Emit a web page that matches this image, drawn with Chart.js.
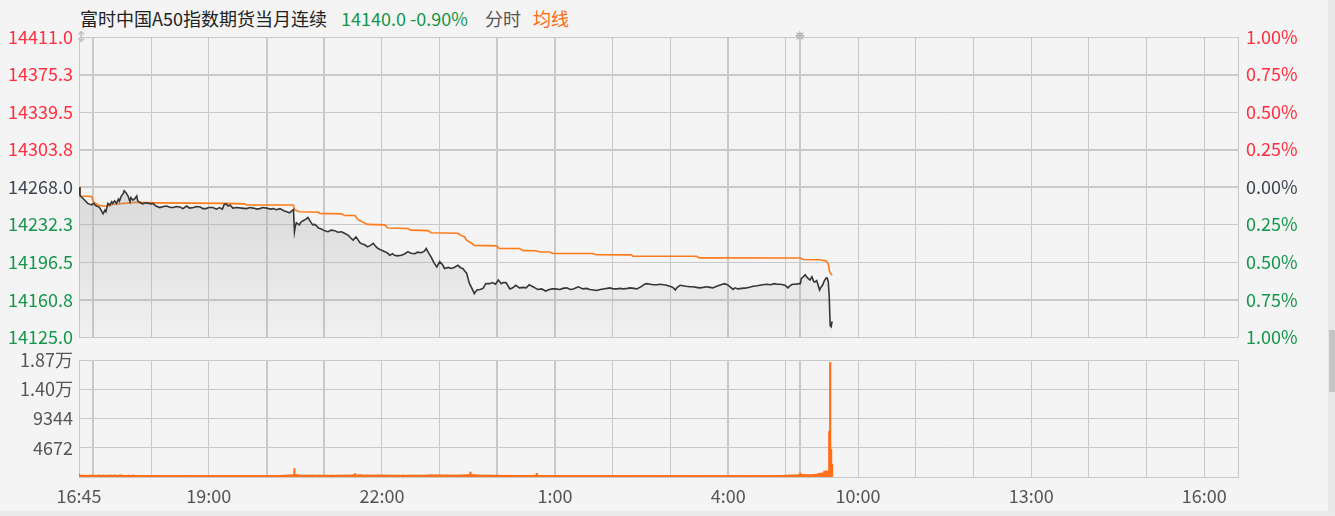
<!DOCTYPE html>
<html><head><meta charset="utf-8">
<script src="https://cdn.jsdelivr.net/npm/chart.js@4.4.1/dist/chart.umd.min.js"></script>
<style>
html,body{margin:0;padding:0;background:#f4f4f4;width:1335px;height:516px;overflow:hidden;font-family:"Noto Sans CJK SC","Noto Sans",sans-serif;}
canvas{position:absolute;left:0;}
.t{position:absolute;top:5px;font-size:18px;line-height:26px;white-space:nowrap;}
#ico1{position:absolute;left:75px;top:28px;font:bold 15px "DejaVu Sans";color:#c4c4c4;}
#ico2{position:absolute;left:794px;top:28px;font:bold 14px "DejaVu Sans";color:#bcbcbc;}
#sb{position:absolute;left:1328px;top:0;width:7px;height:516px;background:#e8e8e8;}
#sbt{position:absolute;left:1329px;top:330px;width:6px;height:62px;background:#c4c4c4;}
#bot{position:absolute;left:0;top:511px;width:1335px;height:5px;background:#e9e9e9;}
</style></head><body>
<div class="t" style="left:80px;color:#222;">富时中国A50指数期货当月连续</div>
<div class="t" style="left:341px;color:#15954a;">14140.0 -0.90%</div>
<div class="t" style="left:485px;color:#555;">分时</div>
<div class="t" style="left:533px;color:#ff6a10;">均线</div>
<canvas id="pc" width="1335" height="356" style="top:0"></canvas>
<canvas id="vc" width="1335" height="176" style="top:340px"></canvas>
<div id="ico1">↕</div>
<div id="ico2">✸</div>
<div id="sb"></div><div id="sbt"></div><div id="bot"></div>
<script>
// ---------------- data ----------------
const preClose = 14268.0;
const lastPrice = 14140.0;
const priceTicks = [14125.0, 14160.75, 14196.5, 14232.25, 14268.0, 14303.75, 14339.5, 14375.25, 14411.0];
const priceTickLabels = ['14125.0','14160.8','14196.5','14232.3','14268.0','14303.8','14339.5','14375.3','14411.0'];
const pctTickLabels = ['1.00%','0.75%','0.50%','0.25%','0.00%','0.25%','0.50%','0.75%','1.00%'];
const volTicks = [0, 4672, 9344, 14016, 18688];
const volTickLabels = ['', '4672', '9344', '1.40万', '1.87万'];
const axisStart = '16:45';
const axisEnd = '16:35';
const gridTimes = ['17:00','18:00','19:00','20:00','21:00','22:00','23:00','0:00','1:00','2:00','3:00','4:00','5:00','9:00','10:00','11:00','12:00','13:00','14:00','15:00','16:00'];
const thickGridTimes = ['17:00','20:00','21:00','0:00','1:00','4:00','9:00'];
const axisLabelTimes = ['16:45','19:00','22:00','1:00','4:00','10:00','13:00','16:00'];

const priceTimes = ['16:45','16:46','16:47','16:51','16:54','16:58','17:00','17:03','17:06','17:08','17:10','17:12','17:13','17:15','17:17','17:19','17:20','17:22','17:24','17:26','17:27','17:29','17:31','17:32','17:34','17:36','17:38','17:39','17:41','17:43','17:45','17:46','17:48','17:51','17:55',
'18:00','18:02','18:05','18:09','18:13','18:16','18:20','18:23','18:26','18:30','18:33','18:37','18:40','18:44','18:47','18:51','18:54','18:57',
'19:00','19:04','19:08','19:11','19:14','19:16','19:18','19:20','19:22','19:25','19:29','19:34','19:39','19:43','19:46','19:50','19:53','19:56',
'20:00','20:04','20:07','20:10','20:14','20:18','20:21','20:24','20:26','20:28','20:29','20:30','20:31','20:34','20:36','20:38','20:41','20:43','20:45','20:48','20:50','20:52','20:54','20:57','20:59',
'21:02','21:04','21:07','21:11','21:14','21:18','21:21','21:25','21:27','21:30','21:33','21:35','21:37','21:39','21:42','21:45','21:48','21:51','21:54','21:56','21:59',
'22:03','22:06','22:08','22:11','22:13','22:16','22:20','22:23','22:27','22:30','22:34','22:37','22:41','22:44','22:46','22:48','22:51','22:54','22:57',
'23:00','23:03','23:05','23:09','23:12','23:15','23:19','23:22','23:24','23:26','23:28','23:30','23:31','23:34','23:36','23:37','23:39','23:42','23:45','23:48','23:52','23:55','23:58',
'0:01','0:04','0:06','0:09','0:11','0:13','0:16','0:19','0:23','0:27','0:30','0:33','0:37','0:40','0:42','0:46','0:50','0:54','0:57',
'1:00','1:05','1:08','1:12','1:16','1:19','1:24','1:29','1:33','1:36','1:40','1:43','1:47','1:50','1:54','1:57',
'2:01','2:04','2:08','2:11','2:15','2:18','2:22','2:25','2:28','2:30','2:33','2:35','2:39','2:42','2:46','2:49','2:53','2:56','2:59',
'3:01','3:03','3:05','3:07','3:10','3:13','3:16','3:20','3:23','3:27','3:30','3:34','3:37','3:41','3:44','3:48','3:51','3:54','3:56','3:59',
'4:02','4:05','4:07','4:10','4:14','4:19','4:22','4:26','4:30','4:33','4:36','4:40','4:44','4:48','4:51','4:54','4:57','4:59',
'5:02','5:05','5:07','5:10','5:14',
'9:00','9:01','9:03','9:05','9:07','9:08','9:10','9:12','9:14','9:15','9:17','9:18','9:20','9:21','9:23','9:25','9:27','9:28','9:29','9:30','9:31','9:32','9:33'];
const priceValues = [14268,14260,14259,14255.5,14252.5,14251,14252.5,14250,14249,14246,14242.5,14246,14244.5,14252.5,14251,14254,14252.5,14255,14252.5,14256.5,14254.5,14259.5,14262,14264.5,14262.5,14259.5,14254,14258,14255.5,14257,14259.5,14255,14253.5,14252,14253,
14252,14252.5,14250,14248.5,14249.5,14250,14248.5,14248.5,14249.5,14249,14247.5,14250,14248,14248.5,14249.5,14249,14247.5,14247.5,
14248.5,14248.5,14247,14248.5,14247,14251.5,14252,14250,14251,14248,14248.5,14248,14247.5,14248.5,14248,14247,14247.5,14248.5,
14248,14247,14247.5,14246.5,14247.5,14245.5,14244.5,14243.5,14245,14246.5,14225.5,14231,14234,14232,14235,14236,14237.5,14239,14236,14232,14232.5,14231,14229,14228,14227,
14226,14225.5,14227,14226.5,14225,14225.5,14224,14222,14220,14217.5,14220.5,14218,14215,14214,14213,14211,14212.5,14214.5,14211,14209.5,14208,
14206.5,14205,14203,14204.5,14203,14202.5,14203,14204,14206.5,14205,14204.5,14206,14205.5,14207,14209.5,14206,14201.5,14196,14192,
14197,14194,14190.5,14191.5,14190.5,14191.5,14193.5,14191,14190.5,14188,14186,14179,14176,14170.5,14166.5,14168,14170,14170.5,14171.5,14176,14176,14177,14175.5,
14179.5,14176,14177,14177,14174,14171,14172,14174.5,14172,14172.5,14172,14175,14173,14171.5,14170.5,14171,14169,14170.5,14171,
14171,14170.5,14171.5,14172,14170.5,14171,14173,14171,14171.5,14170.5,14170,14169.5,14170.5,14171,14171.5,14172,
14171,14171,14171.5,14171,14171.5,14172,14171.5,14171,14172.5,14173.5,14175.5,14176,14175.5,14175,14175,14175.5,14175,14174.5,14173.5,
14173,14172,14170,14172.5,14174.5,14174,14173.5,14173,14173,14172.5,14172,14172.5,14173,14172.5,14172,14173.5,14174.5,14175.5,14176,14175,
14173,14170.5,14172,14171,14171.5,14172,14172.5,14173.5,14174,14174.5,14175,14175.5,14175,14176,14175.5,14175.5,14175,14174.5,
14172,14174.5,14175.5,14175.5,14176,
14176,14181,14182.5,14184.5,14182,14181,14179.5,14182.5,14178,14177.5,14179,14176,14170,14172,14174.5,14179,14181.5,14181,14178,14164,14136,14135,14140];

const avgTimes = ['16:45','16:46','16:58','17:00','17:05','17:10','17:17','17:20','17:31','17:46','18:05','19:18','19:37','19:39','20:28','20:29','20:34','20:54','20:55','21:18','21:21','21:32','21:35','21:45','22:03','22:06','22:27','22:30','22:48','22:51','23:19','23:22','23:26','23:28','23:34','23:36','23:59','0:02','0:23','0:27','0:40','0:44','0:54','0:58','1:39','1:43','2:19','2:21','3:27','3:30','5:14','9:00','9:03','9:20','9:27','9:29','9:30','9:31','9:33'];
const avgValues = [14268,14259.5,14259,14254,14251,14250,14250,14251.5,14252.5,14253.5,14253,14252.5,14252,14251,14251,14246.5,14244.5,14244,14243,14242.5,14241,14241,14237,14232.5,14232,14229,14228.5,14227,14226.5,14224.5,14224,14222,14220.5,14217.5,14214,14212.5,14212,14209.5,14209.5,14207.5,14207.3,14206.3,14206.2,14204.8,14204.7,14203.5,14203.4,14202.2,14202.1,14200.6,14200.5,14200.4,14199,14198.8,14197.7,14195,14189,14186.5,14184];

// per-minute volume, index 0 = 16:45 (night session 16:45-5:14, then 9:00-9:33)
const volumes = [
480,300,260,310,280,250,300,270,290,260,240,300,280,260,310,300,280,260,240,270,300,320,280,260,290,310,270,250,300,280,
300,270,290,310,280,260,300,320,290,270,260,280,300,310,330,290,270,280,260,250,270,290,300,260,280,270,300,290,260,240,
250,270,260,240,280,260,250,230,270,260,240,250,230,260,250,240,260,230,250,240,260,250,230,240,260,250,270,240,230,250,
240,230,250,260,240,230,250,240,260,250,230,240,250,260,240,230,250,240,230,250,260,240,230,250,240,260,250,240,230,250,
240,250,230,240,260,250,240,230,250,240,260,250,240,230,250,260,240,250,230,240,250,240,260,250,230,240,250,260,240,230,
250,240,230,250,260,240,230,250,240,260,250,230,240,250,230,240,260,250,240,230,250,240,230,250,260,240,250,230,240,250,
240,230,250,260,240,250,230,240,250,260,240,230,250,240,260,250,240,230,250,240,230,250,260,240,250,230,240,250,260,270,
260,280,270,290,300,280,310,290,300,320,340,310,300,360,1340,420,380,340,320,300,310,290,300,280,290,300,310,290,280,300,
290,280,300,310,290,280,300,290,280,300,310,290,280,270,290,300,280,290,300,280,270,290,280,300,290,280,270,290,300,280,
290,280,300,290,280,300,310,290,300,320,300,310,290,300,320,330,310,540,320,300,310,300,390,300,290,310,300,290,300,310,
300,290,310,300,290,280,300,310,290,300,310,320,300,290,310,300,320,310,300,290,300,310,290,300,280,290,300,290,280,290,
280,290,300,280,270,290,280,300,290,280,270,290,280,300,290,280,290,300,280,290,310,290,280,300,290,280,300,290,280,300,
310,300,290,310,320,330,340,320,310,330,320,310,300,320,310,330,320,310,300,290,310,300,320,310,300,290,300,310,300,290,
300,290,310,300,290,300,310,320,300,310,320,330,340,350,390,340,360,800,380,360,350,340,330,320,310,320,300,310,300,290,
300,290,310,300,290,280,300,290,280,300,290,280,270,290,280,300,290,280,270,260,280,270,290,280,270,260,280,270,260,280,
270,260,280,270,260,250,270,260,280,270,260,250,270,260,250,270,260,280,270,260,250,270,260,280,290,300,590,280,270,260,
260,250,270,260,250,240,260,250,240,260,250,240,230,250,240,260,250,240,230,250,240,230,250,240,260,250,240,230,250,240,
230,240,250,230,240,260,250,240,230,250,240,230,250,240,230,240,250,230,240,250,240,230,220,240,250,230,240,230,220,240,
230,240,220,230,250,240,230,220,240,230,250,240,230,220,240,230,220,240,230,250,240,230,220,230,240,230,220,240,230,220,
230,240,220,230,240,230,220,240,230,250,240,260,250,270,260,250,240,230,250,240,230,240,250,230,240,230,220,240,230,250,
240,230,220,240,230,250,240,230,220,240,230,250,260,240,230,220,240,250,260,240,230,250,240,230,220,240,230,250,240,230,
220,240,230,250,240,230,220,240,230,220,240,230,250,240,230,220,240,230,220,240,230,250,240,230,220,240,230,220,240,230,
250,240,230,220,240,230,250,260,240,230,250,240,230,250,240,230,250,260,270,250,240,230,250,240,230,220,240,230,250,240,
230,240,220,230,250,240,230,220,240,230,250,240,230,220,240,230,250,240,230,220,240,250,230,240,230,220,240,230,250,240,
230,240,250,260,240,230,250,260,270,250,260,280,270,260,280,300,290,280,300,310,290,300,320,310,300,330,320,310,340,380,
620,420,380,360,400,380,360,340,380,360,350,370,360,380,400,420,440,460,480,520,600,620,580,600,700,950,900,980,920,900,
7300,18300,4400,2000];

// ---------------- helpers ----------------
function toPos(t){
  const [h,m] = t.split(':').map(Number); const tm = h*60+m;
  const [sh,sm] = axisStart.split(':').map(Number); const s = sh*60+sm;
  if (tm >= s) return tm - s;
  if (tm <= 5*60+15) return tm + 1440 - s;
  return tm - 540 + (5*60+15 + 1440 - s);
}
const X_MAX = toPos(axisEnd);
const gridPos = gridTimes.map(toPos);
const thickPos = thickGridTimes.map(toPos);
const labelPos = axisLabelTimes.map(toPos);
const xTickPos = [0].concat(gridPos);
const GRID = '#c9c9c9';
const FONT = {family:'"Noto Sans CJK SC","Noto Sans",sans-serif', size:18};
const RED='#ff2d3d', GREEN='#15954a', NEU='#3e4452';
function tickColor(v){ return Math.abs(v-preClose)<0.01 ? NEU : (v>preClose ? RED : GREEN); }
const thickPriceLines = [14160.75, 14268.0, 14303.75, 14375.25];

// ---------------- price chart ----------------
new Chart(document.getElementById('pc'), {
  type:'line',
  data:{datasets:[
    {data: priceTimes.map((t,i)=>({x:toPos(t), y:priceValues[i]})), borderColor:'#363636', borderWidth:1.6, pointRadius:0, tension:0, fill:'start', yAxisID:'y',
     backgroundColor:(c)=>{const ch=c.chart,a=ch.chartArea; if(!a) return 'rgba(0,0,0,0)';
       const g=ch.ctx.createLinearGradient(0,ch.scales.y.getPixelForValue(preClose),0,a.bottom);
       g.addColorStop(0,'rgba(160,160,160,0.32)'); g.addColorStop(1,'rgba(160,160,160,0.04)'); return g;}},
    {data: avgTimes.map((t,i)=>({x:toPos(t), y:avgValues[i]})), borderColor:'#ff7a1a', borderWidth:1.6, pointRadius:0, tension:0, fill:false, yAxisID:'y'}
  ]},
  options:{responsive:false, animation:false, events:[],
    layout:{padding:{top:37,bottom:0,left:0,right:0}},
    plugins:{legend:{display:false}, tooltip:{enabled:false}},
    scales:{
      x:{type:'linear', min:0, max:X_MAX, offset:false,
         afterBuildTicks:s=>{s.ticks = xTickPos.map(v=>({value:v}));},
         ticks:{display:false}, grid:{color:GRID, drawTicks:false, offset:false, lineWidth:c=>thickPos.includes(c.tick.value)?2:1},
         border:{display:false}, afterFit:s=>{s.height=0;}},
      y:{position:'left', min:priceTicks[0], max:priceTicks[priceTicks.length-1],
         afterBuildTicks:s=>{s.ticks = priceTicks.map(v=>({value:v}));},
         ticks:{autoSkip:false, padding:6, font:FONT, color:c=>tickColor(c.tick.value), callback:(v,i)=>priceTickLabels[i]},
         grid:{color:GRID, drawTicks:false, lineWidth:c=>thickPriceLines.includes(c.tick.value)?2:1},
         border:{color:GRID, width:1}, afterFit:s=>{s.width=79;}},
      y1:{position:'right', min:priceTicks[0], max:priceTicks[priceTicks.length-1],
         afterBuildTicks:s=>{s.ticks = priceTicks.map(v=>({value:v}));},
         ticks:{autoSkip:false, padding:8, font:FONT, color:c=>tickColor(c.tick.value), callback:(v,i)=>pctTickLabels[i]},
         grid:{drawOnChartArea:false, drawTicks:false}, border:{color:GRID, width:1}, afterFit:s=>{s.width=97;}}
    }}
});

// ---------------- volume chart ----------------
new Chart(document.getElementById('vc'), {
  type:'bar',
  data:{datasets:[{data: volumes.map((v,i)=>({x:i, y:v})), backgroundColor:'#ff6e1a', borderWidth:0, barThickness:1.5}]},
  options:{responsive:false, animation:false, events:[],
    layout:{padding:{top:20,bottom:0,left:0,right:0}},
    plugins:{legend:{display:false}, tooltip:{enabled:false}},
    scales:{
      x:{type:'linear', min:0, max:X_MAX, offset:false,
         afterBuildTicks:s=>{s.ticks = xTickPos.map(v=>({value:v}));},
         ticks:{autoSkip:false, maxRotation:0, padding:8, font:FONT, color:'#555',
                callback:(v)=>{const k=labelPos.indexOf(v); return k>=0?axisLabelTimes[k]:'';}},
         grid:{color:GRID, drawTicks:false, offset:false, lineWidth:c=>thickPos.includes(c.tick.value)?2:1},
         border:{color:GRID, width:1}, afterFit:s=>{s.height=39;}},
      y:{position:'left', min:0, max:volTicks[volTicks.length-1],
         afterBuildTicks:s=>{s.ticks = volTicks.map(v=>({value:v}));},
         ticks:{autoSkip:false, padding:6, font:FONT, color:'#555', callback:(v,i)=>volTickLabels[i]},
         grid:{color:GRID, drawTicks:false}, border:{color:GRID, width:1}, afterFit:s=>{s.width=79;}},
      y1:{position:'right', min:0, max:volTicks[volTicks.length-1], ticks:{display:false},
         grid:{drawOnChartArea:false, drawTicks:false}, border:{color:GRID, width:1}, afterFit:s=>{s.width=97;}}
    }}
});
</script>
</body></html>
